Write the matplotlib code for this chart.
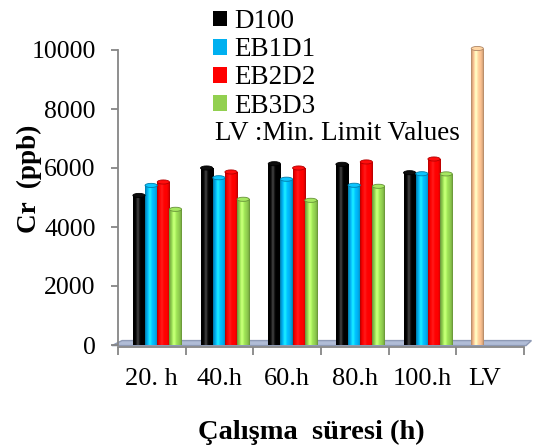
import numpy as np
import matplotlib
matplotlib.use("Agg")
import matplotlib.pyplot as plt
from matplotlib.patches import Polygon, Ellipse, Patch
import matplotlib.colors as mcolors

SERIF = ['Liberation Serif', 'DejaVu Serif']
plt.rcParams['font.family'] = SERIF

categories = ["20. h", "40.h", "60.h", "80.h", "100.h", "LV"]
series_names = ["D100", "EB1D1", "EB2D2", "EB3D3"]
d100 = [5070, 6000, 6145, 6125, 5840, 10050]
eb1d1 = [5410, 5670, 5620, 5415, 5805, 0]
eb2d2 = [5525, 5865, 6000, 6205, 6305, 0]
eb3d3 = [4600, 4940, 4905, 5380, 5800, 0]
series_values = [d100, eb1d1, eb2d2, eb3d3]
series_colors = ["#000000", "#00B0F0", "#FF0000", "#92D050"]
lv_color = "#FAC090"
yticks = [0, 2000, 4000, 6000, 8000, 10000]
legend_note = "LV :Min. Limit Values"

W, H = 533, 445
fig = plt.figure(figsize=(W / 100, H / 100), dpi=100)
x0, x1 = 118, 524
y0, y1 = 345, 50
ax = fig.add_axes([x0 / W, (H - y0) / H, (x1 - x0) / W, (y0 - y1) / H])
ax.set_xlim(0, 6)
ax.set_ylim(0, 10000)

# floor (3D look)
floor = Polygon([(-0.09, -20), (6.03, -20), (6.11, 150), (0.06, 150)],
                closed=True, facecolor="#B0BCD6", edgecolor="#8E9AB5",
                linewidth=1.0, zorder=1, clip_on=False)
ax.add_patch(floor)

bw = 0.18
centers0 = 0.31
x = np.arange(len(categories))


def shade(color, lo=0.62, hi=1.2):
    base = np.array(mcolors.to_rgb(color))
    t = np.linspace(0, 1, 64)
    prof = np.sin(np.pi * t) ** 0.5
    prof = prof + 0.3 * np.exp(-((t - 0.38) / 0.15) ** 2)
    prof = prof / prof.max()
    f = lo + (hi - lo) * prof
    rgb = np.clip(base[None, :] * f[:, None], 0, 1)
    if base.sum() < 0.05:  # black: add gray sheen
        rgb = np.clip(rgb + 0.25 * np.exp(-((t - 0.38) / 0.12) ** 2)[:, None], 0, 1)
    else:
        rgb = np.clip(rgb + 0.10 * np.exp(-((t - 0.38) / 0.12) ** 2)[:, None], 0, 1)
    return rgb[None, :, :]


for k, (vals, col) in enumerate(zip(series_values, series_colors)):
    colors = [col] * len(categories)
    if k == 0:
        colors[-1] = lv_color
    bars = ax.bar(x + centers0 + k * bw, vals, width=bw, color=colors,
                  edgecolor="none", zorder=3, clip_on=False,
                  label=series_names[k])
    for b, c, v in zip(bars, colors, vals):
        if v <= 0:
            b.set_visible(False)
            continue
        bx, by = b.get_x(), b.get_y()
        im = ax.imshow(shade(c), extent=(bx, bx + bw, by, by + v),
                       aspect='auto', zorder=3.5, interpolation='bilinear')
        im.set_clip_path(b)
        cap_col = np.clip(np.array(mcolors.to_rgb(c)) * 1.05 + 0.05, 0, 1)
        edge_col = np.array(mcolors.to_rgb(c)) * 0.7
        ax.add_patch(Ellipse((bx + bw / 2, v), bw, 140, facecolor=cap_col,
                             edgecolor=edge_col, linewidth=0.6, zorder=4,
                             clip_on=False))
ax.set_xlim(0, 6)
ax.set_ylim(0, 10000)

# axes styling
gray = "#868686"
for s in ["top", "right"]:
    ax.spines[s].set_visible(False)
ax.spines["left"].set_color(gray)
ax.spines["left"].set_linewidth(1.3)
ax.spines["bottom"].set_color(gray)
ax.spines["bottom"].set_linewidth(1.3)
ax.spines["bottom"].set_position(("data", -70))

ax.set_yticks(yticks)
ax.set_yticklabels([str(v) for v in yticks], fontfamily=SERIF)
ax.tick_params(axis='y', colors=gray, labelcolor='black', length=5,
               width=1.3, labelsize=18.5, pad=11)

ax.set_xticks(np.arange(0, 7))
ax.set_xticklabels([])
ax.tick_params(axis='x', which='major', colors=gray, length=6, width=1.3)
label_pos = x + 0.5
label_pos = label_pos.astype(float)
label_pos[-1] = 5.42
ax.set_xticks(label_pos, minor=True)
ax.set_xticklabels(categories, minor=True, fontfamily=SERIF)
ax.tick_params(axis='x', which='minor', length=0, labelsize=19, pad=15,
               labelcolor='black')

ax.set_ylabel("Cr  (ppb)", fontsize=19.5, fontweight='bold',
              fontfamily=SERIF)
ax.yaxis.set_label_coords(-0.188, 0.563)
fig.text(311 / W, 1 - 432 / H, "Çalışma  süresi (h)", fontsize=20.5,
         fontweight='bold', ha='center', va='center', family=SERIF)

handles = [Patch(facecolor=c, edgecolor='none') for c in series_colors]
leg = fig.legend(handles, series_names, loc='upper left',
                 bbox_to_anchor=(213 / W, 1 - 9 / H), frameon=False,
                 prop={'family': SERIF, 'size': 19.5},
                 handlelength=0.52, handleheight=0.52,
                 handletextpad=0.25, labelspacing=0.12, borderpad=0,
                 borderaxespad=0)
fig.text(215 / W, 1 - 133 / H, legend_note, fontsize=19.5, ha='left',
         va='center', family=SERIF)

fig.savefig("out.png", dpi=100)
